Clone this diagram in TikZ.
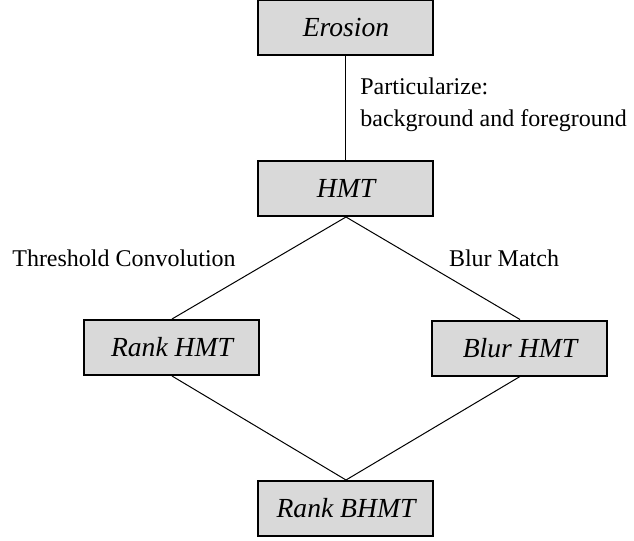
\documentclass[tikz,border=0pt]{standalone}
\usepackage{fontspec}
\setmainfont{Liberation Serif}
\usetikzlibrary{positioning}

\begin{document}
\begin{tikzpicture}[
        x=0.5pt, y=-0.5pt,
        box/.style={draw, line width=1pt, fill=black!15, font=\fontsize{13.8}{16}\selectfont\itshape, minimum width=87.5pt, minimum height=27.5pt, inner sep=0pt},
        lbl/.style={font=\fontsize{12}{16}\selectfont, inner sep=0pt, align=left},
        link/.style={line width=0.5pt}
      ]
    \useasboundingbox (0,0) rectangle (634,541);

    \node[box] (erosion) at (346,27.5) {Erosion};
    \node[box] (hmt) at (346,188.5) {HMT};
    \node[box] (rankhmt) at (172,347.5) {Rank HMT};
    \node[box] (blurhmt) at (520,348) {Blur HMT};
    \node[box] (rankbhmt) at (346,508.5) {Rank BHMT};

    \node[lbl, anchor=west] (partlbl) at (360,105) {Particularize:\\background and foreground};
    \node[lbl] (threshlbl) at (124,258) {Threshold Convolution};
    \node[lbl] (blurlbl) at (504,258) {Blur Match};

    \draw[link] (erosion) -- (hmt);
    \draw[link] (hmt.south) -- (rankhmt.north);
    \draw[link] (hmt.south) -- (blurhmt.north);
    \draw[link] (rankhmt.south) -- (rankbhmt.north);
    \draw[link] (blurhmt.south) -- (rankbhmt.north);

\end{tikzpicture}
\end{document}
